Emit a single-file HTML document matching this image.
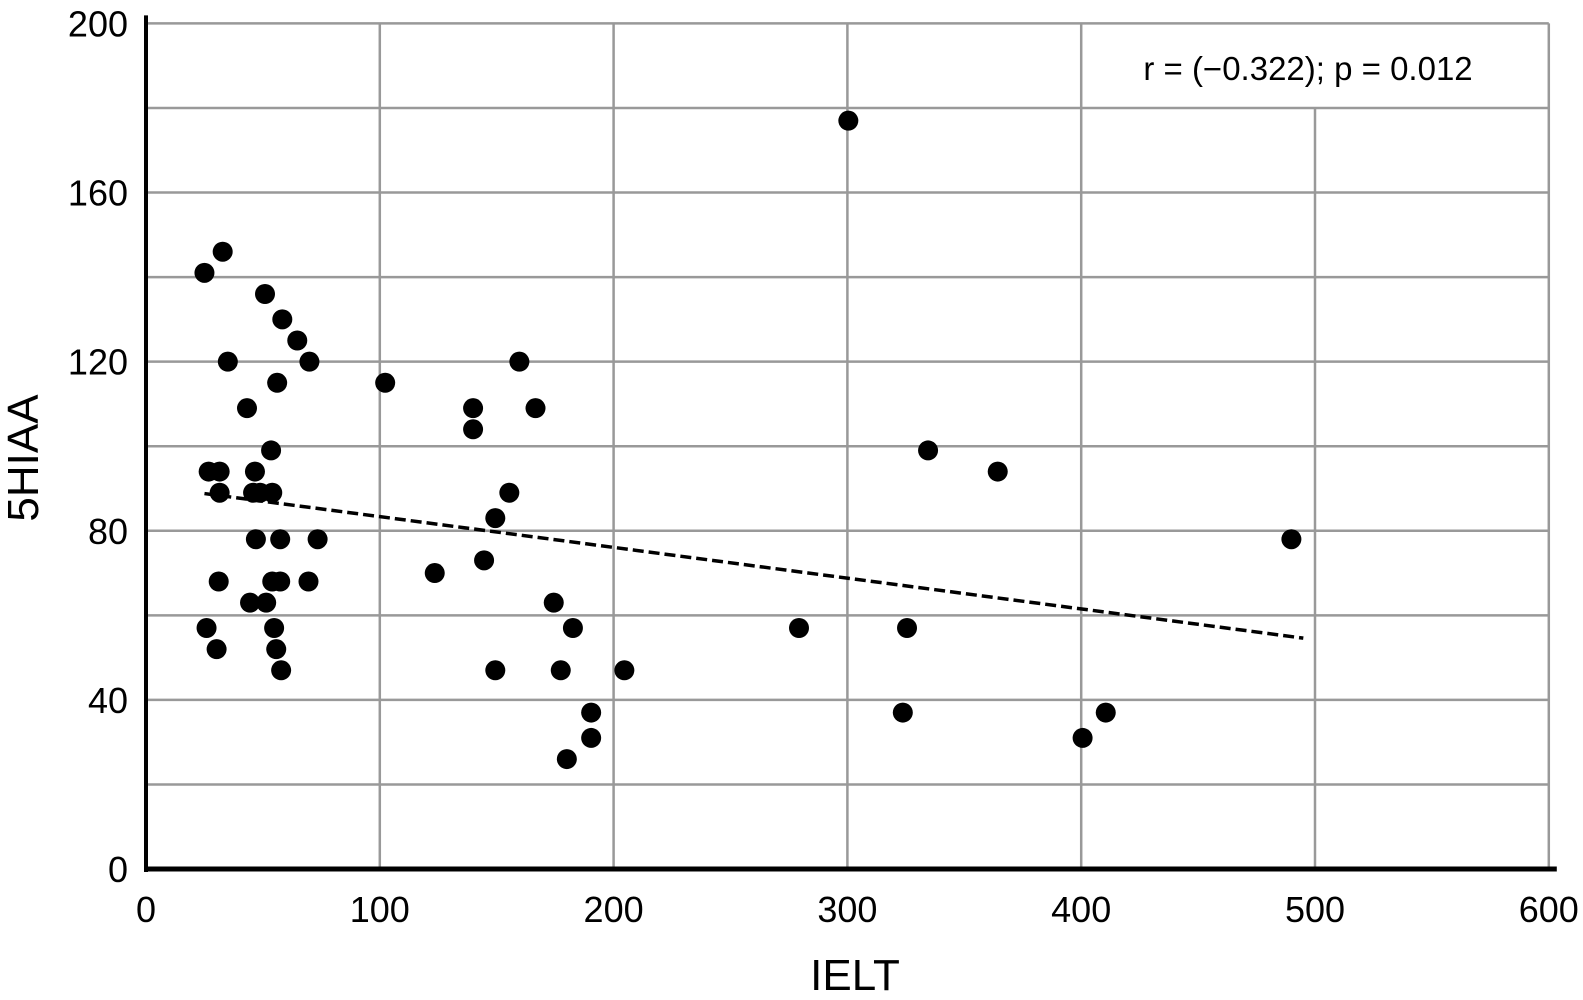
<!DOCTYPE html>
<html><head><meta charset="utf-8"><style>
html,body{margin:0;padding:0;background:#fff;}
svg{display:block;font-family:"Liberation Sans",Arial,sans-serif;}
</style></head><body>
<svg id="chart" width="1583" height="1000" viewBox="0 0 1583 1000">
<g id="grid"></g>
<g id="trend"></g>
<g id="points"></g>
<g id="axes"></g>
<text x="1308" y="80" font-size="33" text-anchor="middle">r = (−0.322); p = 0.012</text>
<text x="855" y="990" font-size="44" text-anchor="middle">IELT</text>
<text x="0" y="0" font-size="44" text-anchor="middle" transform="translate(38,458) rotate(-90)">5HIAA</text>
</svg>
<script>
const xTicks = [0,100,200,300,400,500,600];
const yTicks = [0,40,80,120,160,200];
const yGrid = [20,40,60,80,100,120,140,160,180,200];
const ieltValues = [25.0,32.8,50.9,58.3,64.7,35.0,69.9,56.1,43.2,53.5,26.8,31.5,46.6,31.5,45.8,48.8,54.0,47.0,57.4,73.4,31.1,54.0,57.4,69.5,44.5,51.4,25.9,54.8,30.2,55.7,57.8,
102.3,139.9,139.9,123.5,144.6,149.4,155.4,159.7,166.6,149.4,174.4,182.6,177.4,190.4,190.4,180.0,204.6,
300.4,279.3,325.5,323.7,334.5,364.3,400.6,410.5,489.9];
const hiaaValues = [141,146,136,130,125,120,120,115,109,99,94,94,94,89,89,89,89,78,78,78,68,68,68,68,63,63,57,57,52,52,47,
115,109,104,70,73,83,89,120,109,47,63,57,47,37,31,26,47,
177,57,57,37,99,94,31,37,78];
const trendX = [25,495];
const trendY = [88.8,54.6];

const NS='http://www.w3.org/2000/svg';
const X0=146, XS=2.338, Y0=869, YS=4.228;
function sx(v){return X0+v*XS;}
function sy(v){return Y0-v*YS;}
function mk(tag,attrs,parent){const e=document.createElementNS(NS,tag);for(const k in attrs)e.setAttribute(k,attrs[k]);parent.appendChild(e);return e;}
const grid=document.getElementById('grid'),axes=document.getElementById('axes'),pts=document.getElementById('points'),tr=document.getElementById('trend');
yGrid.forEach(v=>{
  const l=mk('line',{x1:sx(0),x2:sx(600),y1:sy(v),y2:sy(v),stroke:'#999','stroke-width':2.5},grid);
  
  
});
xTicks.slice(1).forEach(v=>{
  const top = v===500 ? sy(180) : sy(200);
  const l=mk('line',{x1:sx(v),x2:sx(v),y1:top,y2:sy(0),stroke:'#999','stroke-width':2.5},grid);
  
  
});
const ya=mk('line',{x1:sx(0),x2:sx(0),y1:sy(200)-8,y2:sy(0)+3,stroke:'#000','stroke-width':4},axes);


const xa=mk('line',{x1:sx(0)-2,x2:sx(600)+8,y1:sy(0),y2:sy(0),stroke:'#000','stroke-width':5},axes);


xTicks.forEach(v=>{
  const t=mk('text',{x:sx(v),y:922,'font-size':36,'text-anchor':'middle'},axes);
  t.textContent=v;
  
  
});
yTicks.forEach(v=>{
  const t=mk('text',{x:128,y:sy(v)+13,'font-size':36,'text-anchor':'end'},axes);
  t.textContent=v;
  
  
});
const tl=mk('line',{x1:sx(trendX[0]),y1:sy(trendY[0]),x2:sx(trendX[1]),y2:sy(trendY[1]),stroke:'#000','stroke-width':3.5,'stroke-dasharray':'11,5'},tr);


ieltValues.forEach((x,i)=>{
  const c=mk('circle',{cx:sx(x),cy:sy(hiaaValues[i]),r:10,fill:'#000'},pts);
  
  
});
</script>
</body></html>
